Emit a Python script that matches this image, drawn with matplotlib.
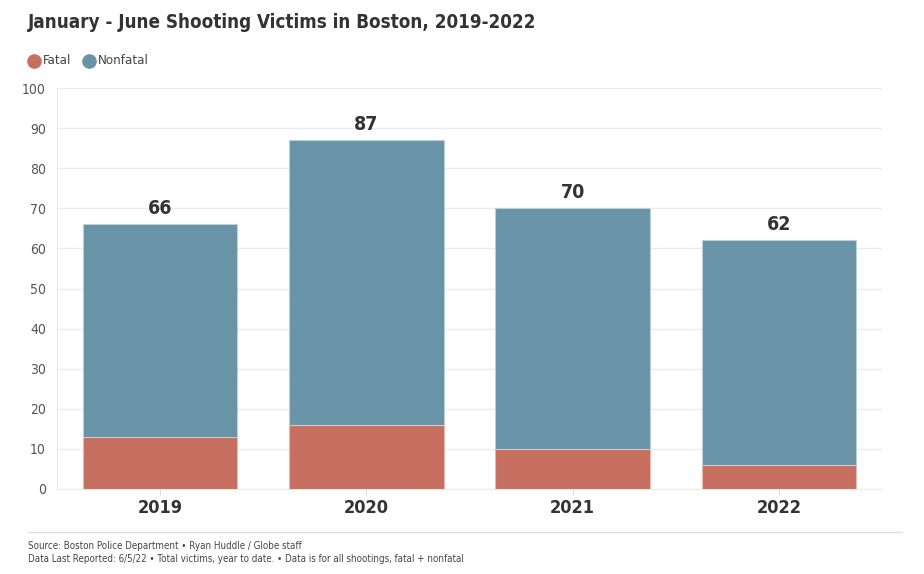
import matplotlib.pyplot as plt
import numpy as np

#%% data
years = ["2019", "2020", "2021", "2022"]
fatal = [13, 16, 10, 6]
nonfatal = [53, 71, 60, 56]
totals = [f + n for f, n in zip(fatal, nonfatal)]

fatal_color = "#c66f60"
nonfatal_color = "#6993a7"
text_color = "#333333"

plt.rcParams["font.family"] = ["DejaVu Sans"]
plt.rcParams["font.stretch"] = "condensed"

#%% plot
fig = plt.figure(figsize=(9.24, 5.74), dpi=100)
ax = fig.add_axes([57 / 924, 1 - 489 / 574, 825 / 924, 401 / 574])

x = np.arange(len(years))
ax.bar(x, fatal, width=0.75, color=fatal_color, edgecolor="#e8b8ae", linewidth=0.8, zorder=3)
ax.bar(x, nonfatal, bottom=fatal, width=0.75, color=nonfatal_color, edgecolor="#b9d0da",
       linewidth=0.8, zorder=3)

for xi, t in zip(x, totals):
    ax.text(xi, t + 1.5, str(t), ha="center", va="bottom", fontsize=14, fontweight="bold",
            color=text_color)

ax.set_xlim(-0.5, 3.5)
ax.set_ylim(0, 100)
ax.set_yticks(range(0, 101, 10))
ax.set_xticks(x)
ax.set_xticklabels(years, fontsize=13, fontweight="bold", color=text_color)
ax.tick_params(axis="x", length=4, color="#dddddd", pad=3)
ax.tick_params(axis="y", length=0, labelsize=10, labelcolor="#555555", pad=8)
ax.grid(axis="y", color="#ebebeb", linewidth=1, zorder=0)
for s in ["top", "right"]:
    ax.spines[s].set_visible(False)
ax.spines["left"].set_color("#ebebeb")
ax.spines["bottom"].set_color("#ebebeb")

# title and legend
fig.text(28 / 924, 1 - 22 / 574, "January - June Shooting Victims in Boston, 2019-2022",
         fontsize=13.5, fontweight="bold", color=text_color, va="center")
fig.add_artist(plt.Line2D([34 / 924], [1 - 61 / 574], marker="o", markersize=9.5,
                          color=fatal_color, transform=fig.transFigure))
fig.text(43 / 924, 1 - 60 / 574, "Fatal", fontsize=9.5, color="#444444", va="center")
fig.add_artist(plt.Line2D([89 / 924], [1 - 61 / 574], marker="o", markersize=9.5,
                          color=nonfatal_color, transform=fig.transFigure))
fig.text(98 / 924, 1 - 60 / 574, "Nonfatal", fontsize=9.5, color="#444444", va="center")

# footer
fig.add_artist(plt.Line2D([28 / 924, 902 / 924], [1 - 532 / 574] * 2, color="#dddddd",
                          linewidth=1, transform=fig.transFigure))
fig.text(28 / 924, 1 - 546 / 574, "Source: Boston Police Department \u2022 Ryan Huddle / Globe staff",
         fontsize=7, color="#444444", va="center")
fig.text(28 / 924, 1 - 559 / 574,
         "Data Last Reported: 6/5/22 \u2022 Total victims, year to date. \u2022 Data is for all shootings, fatal + nonfatal",
         fontsize=7, color="#444444", va="center")

fig.savefig("out.png", dpi=100)
